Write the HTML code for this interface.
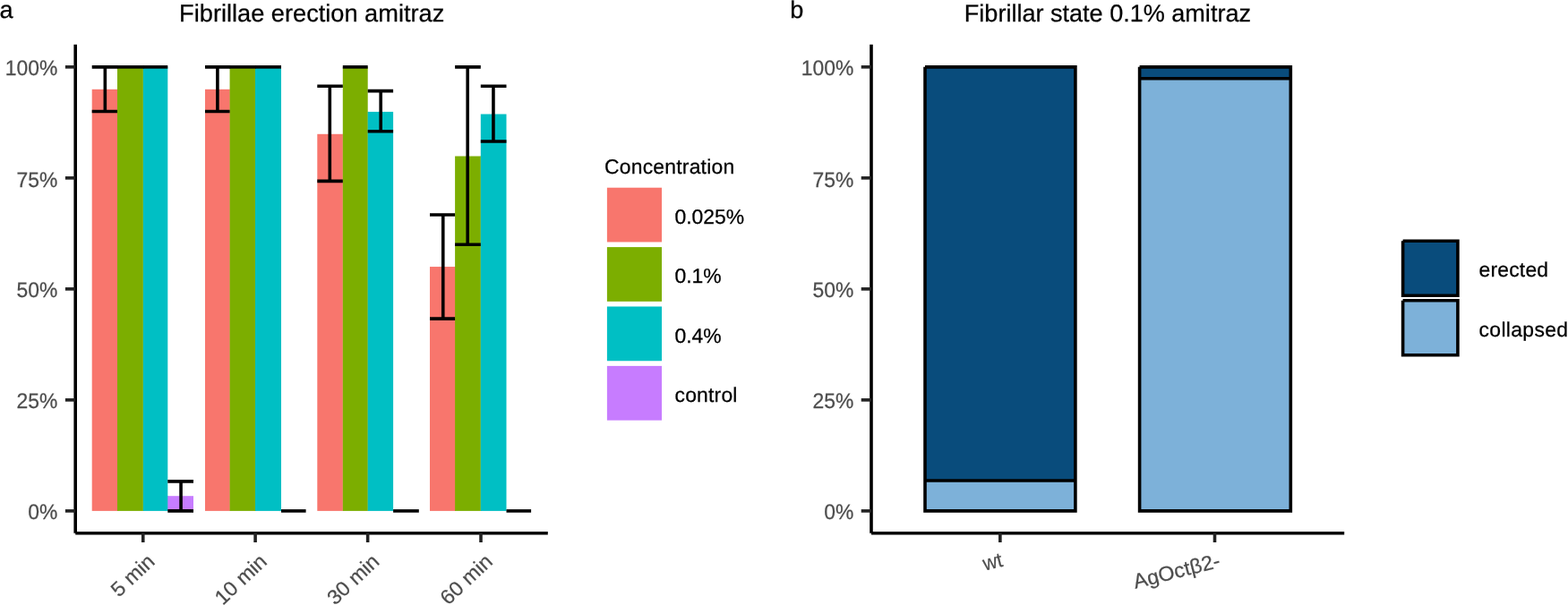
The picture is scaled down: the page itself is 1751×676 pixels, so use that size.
<!DOCTYPE html>
<html lang="en">
<head>
<meta charset="utf-8">
<title>Fibrillae erection amitraz</title>
<style>
html,body{margin:0;padding:0;background:#fff;}
body{width:1751px;height:676px;overflow:hidden;}
svg{display:block;}
text{font-family:"Liberation Sans",Arial,Helvetica,sans-serif;text-rendering:geometricPrecision;stroke-width:0.25px;}
.t{font-size:27.2px;fill:#000;stroke:#000;}
.tag{font-size:27.1px;fill:#000;stroke:#000;}
.ax{font-size:22.9px;fill:#4d4d4d;stroke:#4d4d4d;}
.lg{font-size:22.9px;fill:#000;stroke:#000;}
.ln{stroke:#000;stroke-width:3.6;fill:none;}
.tk{stroke:#222;stroke-width:3.6;fill:none;}
</style>
</head>
<body>
<svg width="1751" height="676" viewBox="0 0 1751 676">
<rect width="1751" height="676" fill="#fff"/>

<!-- panel a -->
<g id="panel-a">
<rect x="102.7" y="99.8" width="28.3" height="471.1" fill="#F8766D"/>
<rect x="130.8" y="99.8" width="1" height="471.1" fill="#F8766D"/>
<rect x="131" y="74.85" width="28.85" height="496.05" fill="#7CAE00"/>
<rect x="159.65" y="74.85" width="1" height="496.05" fill="#7CAE00"/>
<rect x="159.85" y="74.85" width="27.45" height="496.05" fill="#00BFC4"/>
<rect x="187.1" y="554.2" width="1" height="16.7" fill="#00BFC4"/>
<rect x="187.3" y="554.2" width="28.7" height="16.7" fill="#C77CFF"/>
<rect x="229" y="99.8" width="27.57" height="471.1" fill="#F8766D"/>
<rect x="256.37" y="99.8" width="1" height="471.1" fill="#F8766D"/>
<rect x="256.57" y="74.85" width="28.43" height="496.05" fill="#7CAE00"/>
<rect x="284.8" y="74.85" width="1" height="496.05" fill="#7CAE00"/>
<rect x="285" y="74.85" width="29" height="496.05" fill="#00BFC4"/>
<rect x="354.3" y="149.8" width="28.5" height="421.1" fill="#F8766D"/>
<rect x="382.6" y="149.8" width="1" height="421.1" fill="#F8766D"/>
<rect x="382.8" y="74.85" width="27.9" height="496.05" fill="#7CAE00"/>
<rect x="410.5" y="124.9" width="1" height="446" fill="#7CAE00"/>
<rect x="410.7" y="124.9" width="28.4" height="446" fill="#00BFC4"/>
<rect x="480" y="298.05" width="28.1" height="272.85" fill="#F8766D"/>
<rect x="507.9" y="298.05" width="1" height="272.85" fill="#F8766D"/>
<rect x="508.1" y="174.5" width="28.7" height="396.4" fill="#7CAE00"/>
<rect x="536.6" y="174.5" width="1" height="396.4" fill="#7CAE00"/>
<rect x="536.8" y="127.5" width="28.7" height="443.4" fill="#00BFC4"/>
<path class="ln" d="M102.7 74.85H131.6M117.35 74.85V124.46M102.7 124.46H131"/>
<path class="ln" d="M131 74.85H160.45"/>
<path class="ln" d="M159.85 74.85H187.3"/>
<path class="ln" d="M187.3 537.86H216M202.05 537.86V570.9M187.3 570.9H216"/>
<path class="ln" d="M229 74.85H257.17M242.9 74.85V124.46M229 124.46H256.57"/>
<path class="ln" d="M256.57 74.85H285.6"/>
<path class="ln" d="M285 74.85H314"/>
<path class="ln" d="M314 570.9H341.6"/>
<path class="ln" d="M354.3 96.18H382.8M368.3 96.18V202.33M354.3 202.33H382.8"/>
<path class="ln" d="M382.8 74.85H410.7"/>
<path class="ln" d="M410.7 101.64H439.1M425.2 101.64V146.78M410.7 146.78H439.1"/>
<path class="ln" d="M439.1 570.9H467.8"/>
<path class="ln" d="M480 240.03H508.1M494.75 240.03V356.11M480 356.11H508.1"/>
<path class="ln" d="M508.1 74.85H536.8M522.2 74.85V273.27M508.1 273.27H536.8"/>
<path class="ln" d="M536.8 96.18H565.5M550.95 96.18V157.94M536.8 157.94H565.5"/>
<path class="ln" d="M565.5 570.9H593.1"/>
<path class="ln" d="M84.2 49.8V595.7"/>
<path class="ln" d="M84.2 595.7H611.8"/>
<path class="tk" d="M72.9 570.9H84.2"/>
<text class="ax" text-anchor="end" transform="translate(64.3 579.6) scale(1 1.04)">0%</text>
<path class="tk" d="M72.9 446.89H84.2"/>
<text class="ax" text-anchor="end" transform="translate(64.3 456.49) scale(1 1.04)">25%</text>
<path class="tk" d="M72.9 322.88H84.2"/>
<text class="ax" text-anchor="end" transform="translate(64.3 331.62) scale(1 1.04)">50%</text>
<path class="tk" d="M72.9 198.86H84.2"/>
<text class="ax" text-anchor="end" transform="translate(64.3 208.61) scale(1 1.04)">75%</text>
<path class="tk" d="M72.9 74.85H84.2"/>
<text class="ax" text-anchor="end" transform="translate(64.3 83.65) scale(1 1.04)">100%</text>
<path class="tk" d="M159.75 595.7V606"/>
<text class="ax" text-anchor="end" transform="translate(174.05 629.1) rotate(-43.3) scale(1.015 1)">5 min</text>
<path class="tk" d="M285.1 595.7V606"/>
<text class="ax" text-anchor="end" transform="translate(299.4 629.1) rotate(-43.3) scale(1.015 1)">10 min</text>
<path class="tk" d="M410.65 595.7V606"/>
<text class="ax" text-anchor="end" transform="translate(424.95 629.1) rotate(-43.3) scale(1.015 1)">30 min</text>
<path class="tk" d="M537 595.7V606"/>
<text class="ax" text-anchor="end" transform="translate(551.3 629.1) rotate(-43.3) scale(1.015 1)">60 min</text>
<text class="tag" x="-0.5" y="19.8">a</text>
<text class="t" x="348.2" y="24.1" text-anchor="middle">Fibrillae erection amitraz</text>
<text class="lg" x="675" y="193.8" style="letter-spacing:0.22px">Concentration</text>
<rect x="677.9" y="209.7" width="61.1" height="60.75" fill="#F8766D"/>
<text class="lg" x="753.5" y="250">0.025%</text>
<rect x="677.9" y="276.1" width="61.1" height="60.75" fill="#7CAE00"/>
<text class="lg" x="753.5" y="316.4">0.1%</text>
<rect x="677.9" y="342.5" width="61.1" height="60.75" fill="#00BFC4"/>
<text class="lg" x="753.5" y="382.8">0.4%</text>
<rect x="677.9" y="408.9" width="61.1" height="60.75" fill="#C77CFF"/>
<text class="lg" x="753.5" y="449.2" style="letter-spacing:0.2px">control</text>
</g>
<!-- panel b -->
<g id="panel-b">
<rect x="1033" y="74.85" width="167.9" height="463.17" fill="#094C7C"/>
<rect x="1033" y="537.02" width="167.9" height="33.88" fill="#7DB1D9"/>
<path class="ln" d="M1033 74.85H1200.9V570.9H1033V74.85M1033 537.02H1200.9"/>
<rect x="1272.6" y="74.85" width="168.7" height="13.9" fill="#094C7C"/>
<rect x="1272.6" y="87.75" width="168.7" height="483.15" fill="#7DB1D9"/>
<path class="ln" d="M1272.6 74.85H1441.3V570.9H1272.6V74.85M1272.6 87.75H1441.3"/>
<path class="ln" d="M973 49.8V595.7"/>
<path class="ln" d="M973 595.7H1501.2"/>
<path class="tk" d="M961.7 570.9H973"/>
<text class="ax" text-anchor="end" transform="translate(953.3 579.6) scale(1 1.04)">0%</text>
<path class="tk" d="M961.7 446.89H973"/>
<text class="ax" text-anchor="end" transform="translate(953.3 456.49) scale(1 1.04)">25%</text>
<path class="tk" d="M961.7 322.88H973"/>
<text class="ax" text-anchor="end" transform="translate(953.3 331.62) scale(1 1.04)">50%</text>
<path class="tk" d="M961.7 198.86H973"/>
<text class="ax" text-anchor="end" transform="translate(953.3 208.61) scale(1 1.04)">75%</text>
<path class="tk" d="M961.7 74.85H973"/>
<text class="ax" text-anchor="end" transform="translate(953.3 83.65) scale(1 1.04)">100%</text>
<path class="tk" d="M1116.85 595.7V606"/>
<text class="ax" text-anchor="end" transform="translate(1120.95 632.4) rotate(-14.3) scale(0.95 1)">wt</text>
<path class="tk" d="M1356.5 595.7V606"/>
<text class="ax" text-anchor="end" transform="translate(1363.85 633.3) rotate(-14.3) scale(1.02 1)">AgOctβ2-</text>
<text class="tag" x="882.3" y="19.8">b</text>
<text class="t" x="1236.9" y="24.1" text-anchor="middle" style="font-size:27.05px">Fibrillar state 0.1% amitraz</text>
<path class="ln" style="fill:#094C7C" d="M1566.6 269.2H1627.9V330.2H1566.6V269.2"/>
<text class="lg" x="1651.5" y="309.1" style="letter-spacing:0.2px">erected</text>
<path class="ln" style="fill:#7DB1D9" d="M1566.6 335.7H1627.9V396.7H1566.6V335.7"/>
<text class="lg" x="1651.5" y="375.8" style="letter-spacing:0.35px">collapsed</text>
</g>
</svg>
</body>
</html>
